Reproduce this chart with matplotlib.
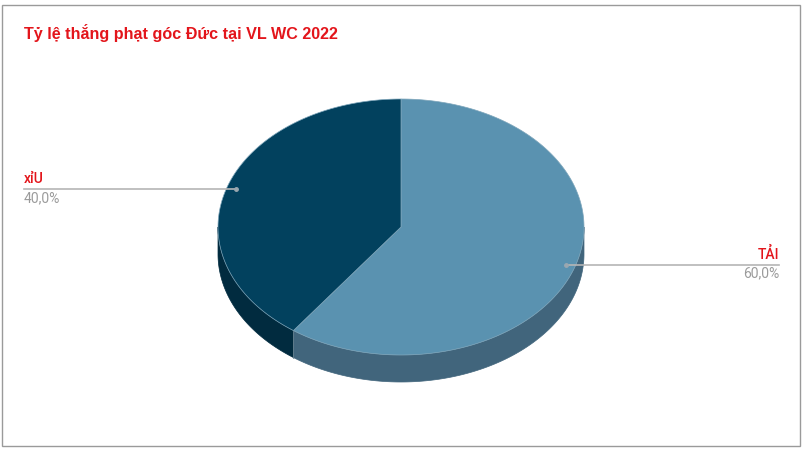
import numpy as np
import matplotlib
matplotlib.use("Agg")
import matplotlib.pyplot as plt
from matplotlib.patches import Polygon, Rectangle

plt.rcParams["font.family"] = ["Roboto", "DejaVu Sans"]

TITLE = "Tỷ lệ thắng phạt góc Đức tại VL WC 2022"
labels = ["TẢI", "xỉU"]
values = [60.0, 40.0]
top_colors = ["#5a92b0", "#02415e"]
side_colors = ["#41657c", "#012b3f"]

# pie geometry in pixel coordinates
cx, cy = 401, 227
rx, ry = 183, 128
depth = 27

fig = plt.figure(figsize=(8.02, 4.49), dpi=100)
ax = fig.add_axes([0, 0, 1, 1])
ax.set_xlim(0, 802)
ax.set_ylim(449, 0)
ax.axis("off")

# chart frame
ax.add_patch(Rectangle((1.5, 4.5), 798.5, 441.5, facecolor="white",
                       edgecolor="#9a9a9a", linewidth=1.0, zorder=0))


def ellipse_pts(t0, t1, n=200, dy=0.0):
    t = np.radians(np.linspace(t0, t1, n))
    return np.column_stack([cx + rx * np.sin(t), cy - ry * np.cos(t) + dy])


total = sum(values)
starts = np.cumsum([0] + values[:-1]) / total * 360
ends = np.cumsum(values) / total * 360

# sides (front half only: 90..270 deg clockwise from top)
for s, e, col in zip(starts, ends, side_colors):
    a0, a1 = max(s, 90), min(e, 270)
    if a1 <= a0:
        continue
    top = ellipse_pts(a0, a1)
    bottom = ellipse_pts(a0, a1, dy=depth)[::-1]
    ax.add_patch(Polygon(np.vstack([top, bottom]), closed=True,
                         facecolor=col, edgecolor=col, linewidth=0.5, zorder=1))
    # seam line where slice edges meet on the side
    if 90 < s < 270:
        p = ellipse_pts(s, s, n=1)[0]
        ax.plot([p[0], p[0]], [p[1], p[1] + depth], color="#6d8797",
                linewidth=0.6, zorder=2)

# top faces
for s, e, col in zip(starts, ends, top_colors):
    pts = np.vstack([[cx, cy], ellipse_pts(s, e)])
    ax.add_patch(Polygon(pts, closed=True, facecolor=col,
                         edgecolor="#7fa6bb", linewidth=0.5, zorder=3))

# leader lines and labels
for s, e, lab, val in zip(starts, ends, labels, values):
    mid = np.radians((s + e) / 2)
    px = cx + 0.95 * rx * np.sin(mid)
    py = cy - 0.95 * ry * np.cos(mid)
    right = np.sin(mid) > 0
    tx = 779 if right else 24
    ha = "right" if right else "left"
    ax.plot([px, tx], [py, py], color="#b5b5b5", linewidth=1.2, zorder=4)
    ax.plot(px, py, "o", color="#9aa7b0", markersize=2.5, zorder=5)
    ax.text(tx, py - 3, lab, color="#e3151b", fontsize=10, fontweight="medium",
            ha=ha, va="bottom", zorder=6)
    ax.text(tx, py + 2, f"{val:.1f}%".replace(".", ","), color="#9b9b9b",
            fontsize=10, ha=ha, va="top", zorder=6)

ax.text(24, 33, TITLE, color="#e3151b", fontsize=11.6, fontweight="bold",
        family=["Liberation Sans", "DejaVu Sans"], ha="left", va="center")

fig.savefig("out.png", dpi=100, facecolor="white")
